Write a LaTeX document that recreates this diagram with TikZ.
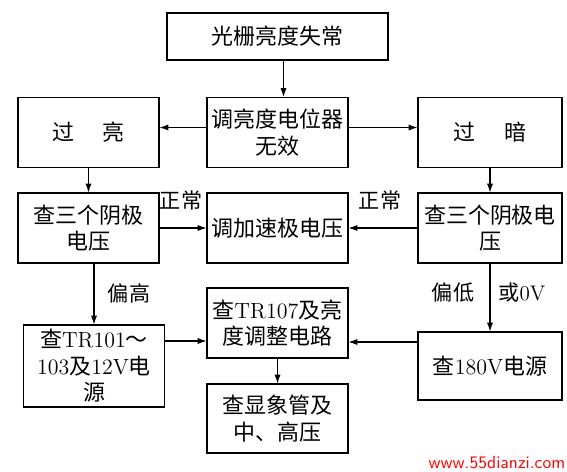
\documentclass[tikz,border=0pt]{standalone}
\usepackage{fontspec}
\newfontfamily\cjk{Noto Sans CJK SC}
\newcommand\lat[1]{{\rmfamily #1}}
\usetikzlibrary{calc}
\usetikzlibrary{arrows.meta,positioning}

\begin{document}
\begin{tikzpicture}[x=0.02cm,y=-0.02cm,
			block/.style = {draw, line width=0.6pt, align=center, inner sep=2pt, minimum width=2.82cm, minimum height=1.4cm, font=\cjk\fontsize{12.5}{15}\selectfont},
			lbl/.style = {inner sep=1pt, font=\cjk\fontsize{12}{14}\selectfont},
			flow/.style = {line width=0.6pt, -{Latex[length=5pt,width=3.5pt]}}
			]
			\useasboundingbox (0,0) rectangle (567,472);
			
			\node[block, minimum width=4.42cm, minimum height=0.94cm] (fault) at (277.5,36.5) {光栅亮度失常};
			
			\node[block] (bright) at (88.5,132.5) {过\hspace{1.3em}亮};
			\node[block] (pot) at (277.5,132.5) {调亮度电位器\\无效};
			\node[block, minimum width=2.88cm] (dark) at (490,132.5) {过\hspace{1.3em}暗};
			
			\node[block] (cathL) at (88.5,228) {查三个阴极\\电压};
			\node[block] (accel) at (277.5,228) {调加速极电压};
			\node[block, minimum width=2.88cm] (cathR) at (490,228) {查三个阴极电\\压};
			
			\node[block, minimum height=1.64cm] (tr101) at (94,366) {查\lat{TR101}～\\\lat{103}及\lat{12V}电\\源};
			\node[block] (tr107) at (277.5,323) {查\lat{TR107}及亮\\度调整电路};
			\node[block, minimum width=2.88cm, minimum height=1.36cm] (psu) at (490,366) {查\lat{180V}电源};
			\node[block, minimum height=1.38cm] (crt) at (277.5,418.5) {查显象管及\\中、高压};
			
			% arrows
			\draw[flow] ($(fault.south)+(6,0)$) -- ($(pot.north)+(6,0)$);
			\coordinate (midL) at ($(pot.west)+(0,-5)$);
			\coordinate (midR) at ($(pot.east)+(0,-5)$);
			\draw[flow] (midL) -- (midL -| bright.east);
			\draw[flow] (midR) -- (midR -| dark.west);
			\draw[flow] (bright) -- (cathL);
			\draw[flow] (dark) -- (cathR);
			\draw[flow] (cathL.east) -- (accel.west);
			\draw[flow] (cathR.west) -- (accel.east);
			\draw[flow] (tr101.north |- cathL.south) -- (tr101.north);
			\draw[flow] (cathR) -- (psu);
			\coordinate (lowL) at ($(tr101.east)+(0,-25)$);
			\coordinate (lowR) at ($(psu.west)+(0,-24)$);
			\draw[flow] (lowL) -- (lowL -| tr107.west);
			\draw[flow] (lowR) -- (lowR -| tr107.east);
			\draw[flow] (tr107) -- (crt);
			
			% labels
			\node[lbl] (okL) at (181,200) {正常};
			\node[lbl] (okR) at (380,200) {正常};
			\node[lbl] (high) at (129,293) {偏高};
			\node[lbl] (low) at (453,293) {偏低};
			\node[lbl] (zero) at (522,293) {或\lat{0V}};
			\node[inner sep=0pt, text=red, font=\sffamily\fontsize{10}{12}\selectfont] (mark) at (497,463) {www.55dianzi.com};
		\end{tikzpicture}
\end{document}
